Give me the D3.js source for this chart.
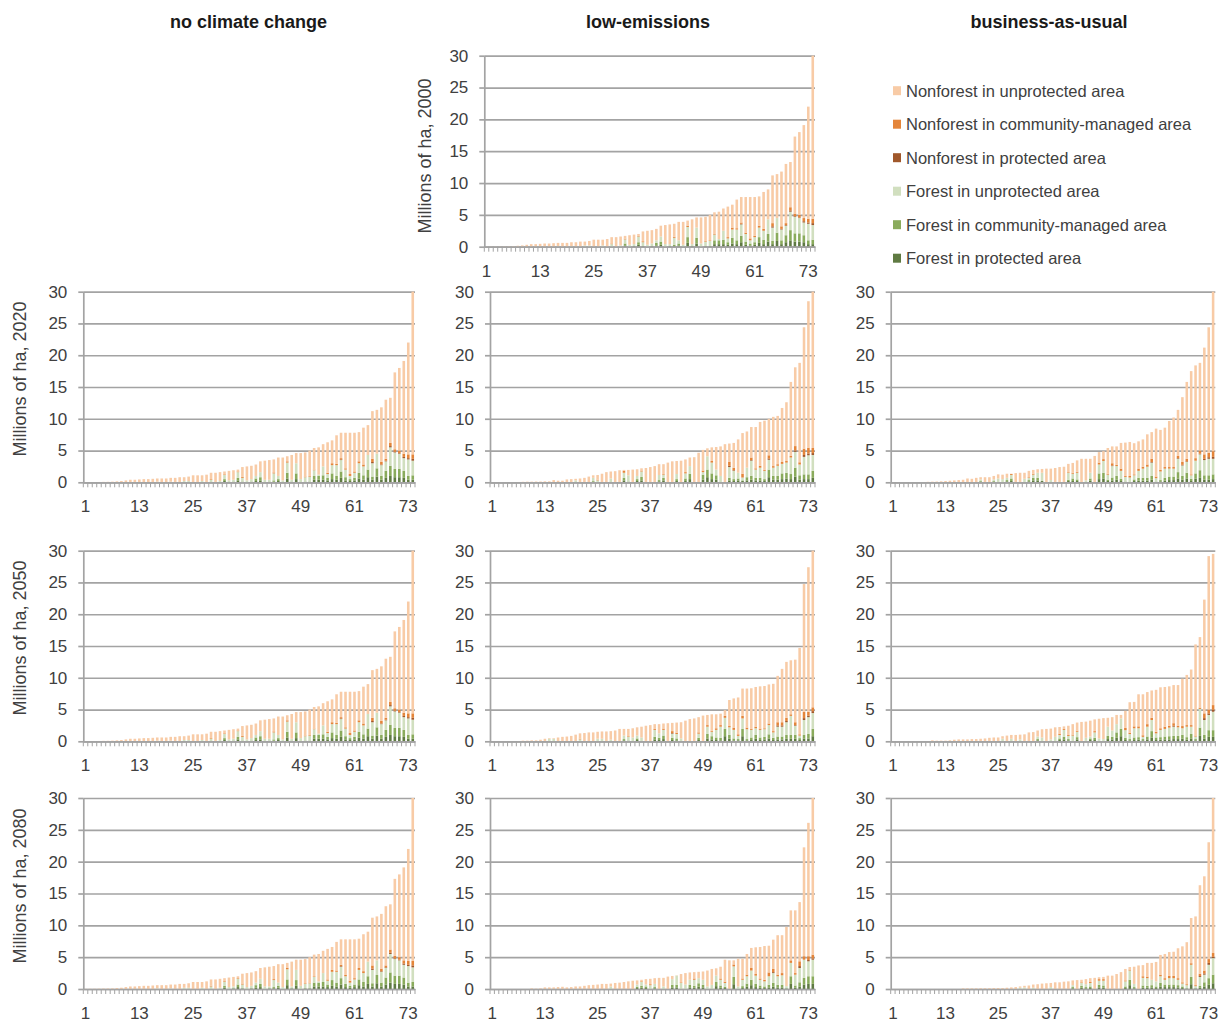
<!DOCTYPE html>
<html>
<head>
<meta charset="utf-8">
<script src="https://cdn.jsdelivr.net/npm/d3@7"></script>
<style>
  body { margin: 0; background: #fff; }
  text { font-family: "Liberation Sans", Arial, sans-serif; }
</style>
</head>
<body>
<div id="chart-area"></div>
<script>
/*
*    land cover by scenario, 74 units sorted by size
*/
var scenarios = ["no climate change", "low-emissions", "business-as-usual"];
var years = ["2000", "2020", "2050", "2080"];
var tickLabels = [1, 13, 25, 37, 49, 61, 73];
var yTicks = [0, 5, 10, 15, 20, 25, 30];
var categories = d3.range(1, 75);

var seriesKeys = ["fp", "fc", "fu", "np", "nc", "nu"];
var seriesNames = ["Forest in protected area", "Forest in community-managed area", "Forest in unprotected area",
                   "Nonforest in protected area", "Nonforest in community-managed area", "Nonforest in unprotected area"];
var seriesColors = ["#5f7a42", "#8aab5c", "#d1dfbf", "#a0582b", "#e4853a", "#f8cba6"];

// ---- 2000 (same in every no-climate-change year) ----
var base_total = [0.02,0.03,0.04,0.05,0.07,0.08,0.1,0.15,0.2,0.3,
  0.4,0.4,0.45,0.5,0.5,0.55,0.6,0.6,0.6,0.7,
  0.7,0.8,0.8,0.9,1.1,1.1,1.1,1.2,1.5,1.5,
  1.6,1.7,1.8,1.9,2.0,2.4,2.5,2.6,2.8,3.3,
  3.4,3.5,3.6,3.9,3.9,4.1,4.3,4.6,4.6,4.7,
  5.0,5.4,5.5,6.0,6.3,6.6,7.4,7.8,7.8,7.8,
  7.8,7.9,8.6,9.0,11.2,11.4,11.8,13.0,13.3,17.3,
  18.0,19.1,22.0,30.0];
var base_fp = [0,0,0,0,0,0,0,0,0,0, 0,0,0,0,0,0,0,0,0,0, 0,0,0,0,0,0,0,0,0,0,
  0,.2,0,.1,.3,.1,0,.1,.2,.3,
  0,.1,.1,.2,0,.6,.1,.5,0,.1,
  .1,.4,.4,.4,.3,.5,.4,.7,.3,.2,
  .3,.6,.4,.8,.4,.9,.4,.7,1.0,.8,
  .8,.7,.4,.4];
var base_fc = [0,0,0,0,0,0,0,0,0,0, 0,0,0,0,0,0,0,0,0,0, 0,0,0,0,0,0,0,0,0,0,
  0,.3,0,0,.4,0,0,0,.4,.5,
  0,0,.2,.3,0,.9,0,.9,0,0,
  0,.6,.6,.7,.4,.9,.6,1.0,.5,.3,
  .4,.9,.7,1.2,.5,1.3,.6,1.1,1.6,1.3,
  1.3,1.1,.6,.7];
var base_fu = [0,0,0,0,0,0,0,0,0,0,
  0,0,0,0,0,0,.1,0,0,.1,
  0,0,.2,.2,0,0,.2,0,.4,0,
  .2,.65,.3,.3,.9,.6,.3,.4,.4,.8,
  .4,.3,1.1,.5,.3,1.6,.3,1.6,.5,.7,
  .8,.9,.2,1.4,.6,1.3,1.7,1.8,1.2,.5,
  .8,1.5,1.4,2.3,2.1,2.3,1.7,1.5,2.9,2.6,
  2.4,2.0,2.6,2.3];
var base_np = [0,0,0,0,0,0,0,0,0,0, 0,0,0,0,0,0,0,0,0,0, 0,0,0,0,0,0,0,0,0,0, 0,0,0,0,0,0,0,0,0,0, 0,0,0,0,0,0,0,0,0,0,
  0,0,0,0,0,0,0,.1,0,0,
  0,0,0,0,.2,0,.1,.1,.2,.1,
  .1,.2,.2,.3];
var base_nc = [0,0,0,0,0,0,0,0,0,0, 0,0,0,0,0,0,0,0,0,0,
  0,0,0,0,0,0,0,0,.1,0,
  0,.1,0,0,.1,.15,0,0,0,0,
  0,0,.15,0,0,.2,0,0,0,.1,
  .1,.1,0,0,.2,.3,.2,.2,.2,.3,
  .2,.3,.3,0,.5,0,.4,.3,.5,.4,
  .4,.5,.6,.7];

// ---- low-emissions 2020 ----
var le20_total = [0,0,0,0,0.02,0.03,0.05,0.08,0.1,0.1,
  0.12,0.12,0.15,0.15,0.35,0.25,0.25,0.45,0.5,0.55,
  0.6,0.7,0.9,1.1,1.15,1.35,1.6,1.7,1.75,1.9,
  1.95,1.95,2.0,2.05,2.2,2.25,2.4,2.55,2.85,2.85,
  3.1,3.3,3.35,3.4,3.6,3.9,3.95,4.65,5.1,5.35,
  5.5,5.55,5.65,6.0,6.1,6.2,6.75,7.75,8.0,8.7,
  8.7,9.5,9.7,10.0,10.3,10.45,11.7,12.6,15.8,18.1,
  18.8,24.4,28.5,30];
var le20_fp = [0,0,0,0,0,0,0,0,0,0, 0,0,0,0,0,0,0,0,0,0,
  0,0,0,.1,0,0,0,0,0,0,
  .3,.1,0,.2,.3,0,0,0,.15,.3,
  0,0,.2,0,.2,.5,0,0,.4,.8,
  .5,.4,0,0,.3,.2,.3,.2,.3,.4,
  .3,.3,.2,.8,.4,.4,.5,.6,.5,.9,
  .4,.5,.5,.7];
var le20_fc = [0,0,0,0,0,0,0,0,0,0, 0,0,0,0,0,0,0,0,0,0,
  0,0,0,.1,0,0,0,0,0,0,
  .4,0,0,.3,.55,0,0,0,.2,.4,
  0,0,.3,0,.4,.85,0,0,.8,1.2,
  .9,.7,0,0,.4,.3,.3,.1,.5,.6,
  .4,.4,.3,1.2,.6,.6,.9,.9,.8,1.4,
  .7,.75,.75,1.1];
var le20_fu = [0,0,0,0,0,0,0,0,0,0,
  0,0,0,0,0,0,0,0,0,.3,
  0,0,0,.5,.3,0,0,.6,0,0,
  .8,1.0,0,.5,.85,0,0,0,.8,.5,
  0,0,.8,0,.8,1.2,0,0,.4,2.1,
  1.7,.9,1.0,0,1.7,1.3,.9,.45,1.5,2.4,
  1.3,1.6,1.3,1.55,1.3,1.6,1.5,1.6,2.6,2.5,
  1.7,2.75,3.0,2.5];
var le20_np = [0,0,0,0,0,0,0,0,0,0, 0,0,0,0,0,0,0,0,0,0, 0,0,0,0,0,0,0,0,0,0, 0,0,0,0,0,0,0,0,0,0, 0,0,0,0,0,0,0,0,0,0,
  0,0,0,0,.2,.1,0,0,0,.1,
  0,0,0,.2,0,0,0,0,0,.2,
  0,.3,.3,.3];
var le20_nc = [0,0,0,0,0,0,0,0,0,0, 0,0,0,0,0,0,0,0,0,0,
  0,0,0,0,.1,0,0,0,0,0,
  .3,0,0,0,.15,0,0,0,0,.1,
  0,0,0,0,.2,0,0,0,.25,0,
  .25,0,0,0,.65,.4,0,.6,0,.4,
  .2,.3,.15,.5,.25,.25,.3,.25,.25,.7,
  .35,1.0,.9,.8];

// ---- business-as-usual 2020 ----
var bau20_total = [0,0,0,0,0,0,0,0.05,0.08,0.1,
  0.12,0.15,0.2,0.25,0.3,0.35,0.4,0.6,0.55,0.7,
  0.8,0.8,0.8,1.0,1.25,1.2,1.35,1.35,1.45,1.5,
  1.5,1.8,1.95,2.05,2.1,2.15,2.15,2.25,2.4,2.45,
  2.9,3.05,3.45,3.7,3.7,3.7,4.15,4.75,4.9,5.4,
  5.65,5.65,6.2,6.25,6.35,6.15,6.45,6.75,7.55,7.9,
  8.45,8.25,8.6,9.65,10.2,11.4,13.4,15.8,17.5,18.4,
  18.8,21.2,24.4,30];
var bau20_fp = [0,0,0,0,0,0,0,0,0,0, 0,0,0,0,0,0,0,0,0,0,
  .1,0,0,.1,0,0,.15,.2,0,0,
  0,.15,.3,.3,.2,0,0,0,0,0,
  .2,.2,.2,0,0,.25,0,.5,.6,.2,
  .3,.4,.2,.1,0,.2,.25,.25,.25,.4,
  .1,.15,.25,.35,.35,.6,.4,.6,.2,.55,
  .7,.4,.4,.5];
var bau20_fc = [0,0,0,0,0,0,0,0,0,0, 0,0,0,0,0,0,0,0,0,0,
  .1,0,0,.1,0,0,.2,.4,0,0,
  0,.2,.4,.4,0,0,0,0,0,0,
  .2,.4,.25,0,0,.35,0,.9,.9,.2,
  .45,.6,.35,0,0,.25,.45,.45,.45,.6,
  0,.2,.45,.55,.55,1.0,.6,.9,.35,.85,
  1.2,.7,.7,.75];
var bau20_fu = [0,0,0,0,0,0,0,0,0,0, 0,0,0,0,0,0,0,0,0,0,
  .25,0,0,.25,.6,.5,.35,.55,0,0,
  .55,.35,.5,.8,1.3,0,.35,0,0,0,
  1.1,.75,1.05,0,.3,.9,0,1.4,1.85,.8,
  1.8,1.55,1.25,.75,.75,.65,1.1,1.45,1.75,2.1,
  .55,1.35,1.45,1.25,1.25,2.1,1.65,1.7,.55,2.0,
  2.5,2.4,2.6,2.45];
var bau20_np = [0,0,0,0,0,0,0,0,0,0, 0,0,0,0,0,0,0,0,0,0, 0,0,0,0,0,0,0,0,0,0, 0,0,0,0,0,0,0,0,0,0, 0,0,0,0,0,0,0,0,0,0,
  .1,0,0,0,0,0,0,0,0,.1,
  0,0,0,0,0,.1,.1,.1,0,0,
  .1,.2,.25,.3];
var bau20_nc = [0,0,0,0,0,0,0,0,0,0, 0,0,0,0,0,0,0,0,0,0,
  0,0,0,0,0,0,0,.15,0,0,
  0,.1,.15,0,0,0,0,0,0,0,
  .1,.15,.15,0,0,0,0,.3,.3,.15,
  .35,.2,.35,.15,.25,.15,.35,.3,.35,.5,
  .25,.25,.25,.25,.25,.35,.45,.4,.15,.4,
  .5,.7,.7,.9];

// ---- low-emissions 2050 ----
var le50_total = [0,0,0,0,0,0,0,0.1,0.1,0.15,
  0.15,0.25,0.4,0.5,0.5,0.6,0.7,0.75,0.85,1.05,
  1.25,1.3,1.4,1.4,1.5,1.55,1.55,1.6,1.7,1.95,
  1.95,1.95,2.05,2.2,2.3,2.45,2.55,2.7,2.7,2.8,
  2.85,2.9,2.95,3.0,3.25,3.5,3.6,3.8,4.05,4.15,
  4.25,4.25,4.35,4.9,6.5,6.75,6.9,8.3,8.3,8.35,
  8.55,8.65,8.7,8.95,9.05,10.3,11.4,12.5,12.75,12.85,
  14.7,24.75,27.4,30];
var le50_fp = [0,0,0,0,0,0,0,0,0,0, 0,0,0,0,0,0,0,0,0,0, 0,0,0,0,0,0,0,0,0,0,
  .15,.1,0,.2,0,0,0,.3,.2,.35,
  0,.2,.15,0,0,0,0,.2,0,.45,
  .3,.2,.15,.8,.4,.15,.15,.8,.15,.2,
  .4,.2,.3,.45,.2,.3,.3,.4,.4,.4,
  .2,.4,.45,.8];
var le50_fc = [0,0,0,0,0,0,0,0,0,0, 0,0,0,0,0,0,0,0,0,0, 0,0,0,0,0,0,0,0,0,0,
  .2,0,0,.25,0,0,0,.4,.35,.55,
  0,.35,.3,0,0,0,0,.35,0,.7,
  .5,.4,.4,1.15,.6,.3,.2,1.15,.2,.4,
  .6,.4,.4,.65,.35,.45,.45,.6,.6,.6,
  .3,.6,.7,1.15];
var le50_fu = [0,0,0,0,0,0,0,0,0,0,
  0,0,0,.4,.4,0,0,0,0,0,
  .3,0,0,0,.4,.4,0,.25,0,0,
  .55,.6,.6,.45,.6,0,0,1.1,.7,.9,
  0,.65,.7,.45,0,0,0,.65,0,1.15,
  .7,1.2,1.75,1.75,1.2,1.35,.5,1.65,1.55,1.2,
  1.05,1.2,1.2,1.45,.85,1.55,1.55,2.0,3.0,1.45,
  .4,2.35,2.65,2.5];
var le50_np = [0,0,0,0,0,0,0,0,0,0, 0,0,0,0,0,0,0,0,0,0, 0,0,0,0,0,0,0,0,0,0, 0,0,0,0,0,0,0,0,0,0,
  0,.1,0,0,0,0,0,0,0,0,
  0,0,0,0,0,0,0,0,0,0,
  0,0,0,0,0,.2,.2,.2,0,.1,
  0,.3,.25,.3];
var le50_nc = [0,0,0,0,0,0,0,0,0,0, 0,0,0,0,0,0,0,0,0,0,
  .1,0,0,0,0,0,0,0,0,0,
  0,.1,0,0,0,0,0,.15,0,.2,
  0,.3,.2,0,0,0,0,.2,0,.25,
  .15,.25,.25,.3,.2,.35,.25,.4,.25,.15,
  .25,.2,.15,.25,.2,.5,.5,.5,.25,.45,
  .2,1.0,.6,.6];

// ---- business-as-usual 2050 ----
var bau50_total = [0,0,0,0,0,0,0,0,0,0.15,
  0.1,0.1,0.1,0.15,0.25,0.3,0.3,0.3,0.35,0.35,
  0.4,0.45,0.55,0.6,0.6,0.8,0.9,1.0,1.0,1.05,
  1.1,1.4,1.45,1.7,1.9,1.95,2.0,2.2,2.25,2.35,
  2.45,2.7,2.95,3.05,3.1,3.25,3.45,3.55,3.65,3.7,
  3.8,4.15,4.15,4.8,6.15,6.2,7.4,7.4,7.75,8.0,
  8.1,8.5,8.55,8.65,8.85,8.85,9.85,10.45,11.3,15.25,
  16.4,22.3,29.15,29.5];
var bau50_fp = [0,0,0,0,0,0,0,0,0,0, 0,0,0,0,0,0,0,0,0,0, 0,0,0,0,0,0,0,0,0,0,
  0,0,0,.15,0,0,0,0,.2,.3,
  .15,0,.3,0,0,.2,.2,0,0,.35,
  .3,.55,.8,.2,.15,.2,.25,.15,.3,.6,
  .2,.25,.3,.3,.35,.35,.4,.25,.45,.15,
  .85,.4,.7,.7];
var bau50_fc = [0,0,0,0,0,0,0,0,0,0, 0,0,0,0,0,0,0,0,0,0, 0,0,0,0,0,0,0,0,0,0,
  0,0,0,.2,0,0,0,0,.25,.4,
  .2,0,.35,0,0,.25,.35,0,0,.5,
  .4,.85,1.15,.35,.2,.4,.4,.2,.45,1.0,
  .4,.4,.45,.5,.5,.5,.6,.4,.7,.2,
  1.3,.6,1.05,1.05];
var bau50_fu = [0,0,0,0,0,0,0,0,0,0, 0,0,0,0,0,0,0,0,0,0,
  0,0,0,0,0,.4,0,.4,0,.3,
  0,0,0,.4,.6,0,.3,.7,.55,1.1,
  .5,.9,.85,0,.55,.3,.85,.45,.35,1.45,
  1.0,1.3,1.65,1.2,.8,1.45,1.4,.35,1.55,1.75,
  .65,1.15,1.2,1.35,1.45,1.35,1.05,1.65,1.15,.4,
  2.95,2.35,2.4,2.9];
var bau50_np = [0,0,0,0,0,0,0,0,0,0, 0,0,0,0,0,0,0,0,0,0, 0,0,0,0,0,0,0,0,0,0, 0,0,0,0,0,0,0,0,0,0, 0,0,0,0,0,0,0,0,0,0, 0,0,0,0,0,0,0,0,0,0,
  0,0,0,0,.15,0,0,0,0,0,
  0,.3,.25,.3];
var bau50_nc = [0,0,0,0,0,0,0,0,0,0, 0,0,0,0,0,0,0,0,0,0, 0,0,0,0,0,0,0,0,0,0,
  0,0,0,0,0,0,0,0,.2,.15,
  .15,.15,.15,0,0,0,.2,0,0,0,
  0,0,0,.35,.2,.3,.3,.25,.4,.35,
  .25,.25,.35,.3,.4,.25,.35,.25,.25,.15,
  .2,.75,.6,.75];

// ---- low-emissions 2080 ----
var le80_total = [0,0,0,0,0,0,0,0,0,0.1,
  0.05,0.1,0.25,0.25,0.25,0.3,0.35,0.25,0.3,0.4,
  0.4,0.5,0.6,0.65,0.7,0.8,0.8,0.85,0.95,1.0,
  1.1,1.2,1.3,1.35,1.45,1.55,1.6,1.7,1.75,1.75,
  1.95,2.05,2.15,2.35,2.5,2.6,2.65,2.7,2.75,2.9,
  3.15,3.25,3.5,4.6,4.5,4.5,4.75,4.75,5.5,6.45,
  6.55,6.6,6.75,6.8,7.75,8.45,8.45,9.75,12.35,12.35,
  13.65,22.25,26.1,30];
var le80_fp = [0,0,0,0,0,0,0,0,0,0, 0,0,0,0,0,0,0,0,0,0, 0,0,0,0,0,0,0,0,0,0,
  0,0,0,.15,.2,.15,0,.1,0,0,
  0,.25,.25,0,0,.25,.2,.35,.25,0,
  0,.45,.2,.15,0,.75,0,.15,.35,.6,
  .3,.2,.15,.25,.35,.25,.25,.1,.8,.2,
  .4,.7,.8,.8];
var le80_fc = [0,0,0,0,0,0,0,0,0,0, 0,0,0,0,0,0,0,0,0,0, 0,0,0,0,0,0,0,0,0,0,
  0,0,0,.2,.3,.25,0,.2,0,0,
  0,.4,.4,0,0,.4,.3,.55,.4,0,
  0,.65,.35,.2,0,1.15,0,.3,.5,.85,
  .5,.35,.25,.4,.6,.4,.4,0,1.2,.35,
  .65,1.05,1.2,1.2];
var le80_fu = [0,0,0,0,0,0,0,0,0,0, 0,0,0,0,0,0,0,0,0,0,
  0,0,0,0,0,0,0,.4,0,0,
  0,0,0,.35,.6,.3,.6,.5,0,.4,
  0,.9,1.45,.95,.7,.8,.95,.8,.8,.4,
  .65,1.0,.9,.6,0,1.65,.4,1.0,1.15,1.45,
  1.3,.9,.8,1.35,1.55,1.35,1.5,.35,2.1,1.7,
  2.25,2.85,2.35,2.6];
var le80_np = [0,0,0,0,0,0,0,0,0,0, 0,0,0,0,0,0,0,0,0,0, 0,0,0,0,0,0,0,0,0,0, 0,0,0,0,0,0,0,0,0,0, 0,0,0,0,0,0,0,0,0,0, 0,0,0,0,0,0,0,0,0,0,
  0,0,0,0,.15,0,0,0,0,0,
  .3,0,.2,.2];
var le80_nc = [0,0,0,0,0,0,0,0,0,0, 0,0,0,0,0,0,0,0,0,0, 0,0,0,0,0,0,0,0,0,0,
  0,0,0,0,.1,0,.15,0,0,0,
  0,0,0,.1,0,0,.2,0,0,0,
  0,0,.2,.2,0,.3,0,.2,.25,.4,
  .25,.2,.25,.6,.5,.25,.35,0,.4,.25,
  .75,.55,.6,.6];

// ---- business-as-usual 2080 ----
var bau80_total = [0,0,0,0,0,0,0,0,0,0,
  0,0,0,0,0,0,0.1,0.1,0.1,0.1,
  0.12,0.12,0.12,0.15,0.15,0.15,0.2,0.25,0.3,0.4,
  0.5,0.55,0.7,0.75,0.85,0.9,0.95,1.05,1.05,1.15,
  1.2,1.35,1.4,1.45,1.55,1.7,1.75,1.85,1.9,2.1,
  2.1,2.35,2.65,3.15,3.45,3.5,3.7,3.75,4.1,4.1,
  4.25,5.35,5.5,5.8,5.85,6.4,6.7,7.35,11.15,11.4,
  16.3,17.7,23.05,30];
var bau80_fp = [0,0,0,0,0,0,0,0,0,0, 0,0,0,0,0,0,0,0,0,0, 0,0,0,0,0,0,0,0,0,0, 0,0,0,0,0,0,0,0,0,0,
  0,.1,0,.2,.1,.15,0,.25,.2,0,
  0,0,0,.15,.6,.1,0,.2,.2,.25,
  .15,.4,.3,.3,.3,.25,.15,.1,.75,.1,
  .2,.4,.65,.9];
var bau80_fc = [0,0,0,0,0,0,0,0,0,0, 0,0,0,0,0,0,0,0,0,0, 0,0,0,0,0,0,0,0,0,0, 0,0,0,0,0,0,0,0,0,0,
  0,.2,0,.3,.2,.25,0,.4,.35,0,
  0,0,0,.25,.85,.2,0,.35,.3,.35,
  .25,.55,.4,.4,.4,.35,.25,0,1.15,0,
  .3,.65,1.05,1.35];
var bau80_fu = [0,0,0,0,0,0,0,0,0,0, 0,0,0,0,0,0,0,0,0,0,
  0,0,0,0,0,0,0,0,0,.2,
  .25,0,.2,0,0,0,.3,0,0,0,
  0,.3,0,.45,.45,.55,0,.65,.75,0,
  0,0,0,.8,1.45,.5,0,1.2,1.2,.85,
  .8,1.05,.75,1.0,1.0,.85,.45,.5,1.9,.35,
  1.4,1.2,2.1,2.6];
var bau80_np = [0,0,0,0,0,0,0,0,0,0, 0,0,0,0,0,0,0,0,0,0, 0,0,0,0,0,0,0,0,0,0, 0,0,0,0,0,0,0,0,0,0, 0,0,0,0,0,0,0,0,0,0, 0,0,0,0,0,0,0,0,0,0, 0,0,0,0,0,0,0,0,0,0,
  .15,.2,.3,.2];
var bau80_nc = [0,0,0,0,0,0,0,0,0,0, 0,0,0,0,0,0,0,0,0,0, 0,0,0,0,0,0,0,0,0,0, 0,0,0,0,0,0,0,0,0,0,
  0,0,0,.1,0,.15,0,.25,.25,0,
  0,0,0,.15,.15,0,0,.25,.25,0,
  0,.25,.25,.35,.35,.25,.2,.15,.25,.15,
  .35,.45,.6,.6];

var datasets = {
  base:  {total: base_total,  fp: base_fp,  fc: base_fc,  fu: base_fu,  np: base_np,  nc: base_nc},
  le20:  {total: le20_total,  fp: le20_fp,  fc: le20_fc,  fu: le20_fu,  np: le20_np,  nc: le20_nc},
  bau20: {total: bau20_total, fp: bau20_fp, fc: bau20_fc, fu: bau20_fu, np: bau20_np, nc: bau20_nc},
  le50:  {total: le50_total,  fp: le50_fp,  fc: le50_fc,  fu: le50_fu,  np: le50_np,  nc: le50_nc},
  bau50: {total: bau50_total, fp: bau50_fp, fc: bau50_fc, fu: bau50_fu, np: bau50_np, nc: bau50_nc},
  le80:  {total: le80_total,  fp: le80_fp,  fc: le80_fc,  fu: le80_fu,  np: le80_np,  nc: le80_nc},
  bau80: {total: bau80_total, fp: bau80_fp, fc: bau80_fc, fu: bau80_fu, np: bau80_np, nc: bau80_nc}
};

// panel placement (pixels)
var panels = [
  {data: "base",  year: 0, left: 484.3, right: 815,    top: 55.7,  bottom: 246.7, titleX: 425, titleY: 156},
  {data: "base",  year: 1, left: 83.3,  right: 415,    top: 291.7, bottom: 482.3, titleX: 20,  titleY: 379},
  {data: "le20",  year: 1, left: 490,   right: 815,    top: 291.7, bottom: 482.3},
  {data: "bau20", year: 1, left: 890.7, right: 1215.3, top: 291.7, bottom: 482.3},
  {data: "base",  year: 2, left: 83.3,  right: 415,    top: 550.7, bottom: 741.3, titleX: 20,  titleY: 638},
  {data: "le50",  year: 2, left: 490,   right: 815,    top: 550.7, bottom: 741.3},
  {data: "bau50", year: 2, left: 890.7, right: 1215.3, top: 550.7, bottom: 741.3},
  {data: "base",  year: 3, left: 83.3,  right: 415,    top: 798,   bottom: 989,   titleX: 20,  titleY: 886},
  {data: "le80",  year: 3, left: 490,   right: 815,    top: 798,   bottom: 989},
  {data: "bau80", year: 3, left: 890.7, right: 1215.3, top: 798,   bottom: 989}
];

var gridColor = "#a3a3a3";
var labelColor = "#404040";

var svg = d3.select("#chart-area").append("svg")
            .attr("width", 1225)
            .attr("height", 1024);

// column headings
var headX = [248.5, 648, 1049];
svg.selectAll("text.head")
   .data(scenarios)
   .enter().append("text")
      .attr("class", "head")
      .attr("x", (d, i) => headX[i])
      .attr("y", 28)
      .attr("text-anchor", "middle")
      .attr("font-size", "18px")
      .attr("font-weight", "bold")
      .attr("fill", "#1a1a1a")
      .text((d) => d);

var stack = d3.stack().keys(seriesKeys);

panels.forEach((p) => {
  var d = datasets[p.data];
  var rows = categories.map((c, i) => {
    var r = {cat: c, fp: d.fp[i], fc: d.fc[i], fu: d.fu[i], np: d.np[i], nc: d.nc[i]};
    r.nu = Math.max(0, d.total[i] - r.fp - r.fc - r.fu - r.np - r.nc);
    return r;
  });

  var x = d3.scaleBand()
            .domain(categories)
            .range([p.left, p.right])
            .paddingInner(0.42)
            .paddingOuter(0.21);
  var y = d3.scaleLinear()
            .domain([0, 30])
            .range([p.bottom, p.top]);

  var g = svg.append("g");

  // gridlines
  g.append("g")
   .attr("transform", "translate(" + p.left + ",0)")
   .call(d3.axisLeft(y).tickValues(yTicks).tickSize(-(p.right - p.left)).tickFormat(""))
   .call((s) => s.select(".domain").remove())
   .selectAll("line")
      .attr("stroke", gridColor)
      .attr("stroke-width", 1.7);

  // bars
  g.append("g").selectAll("g")
   .data(stack(rows))
   .enter().append("g")
      .attr("fill", (s, i) => seriesColors[i])
   .selectAll("rect")
   .data((s) => s)
   .enter().append("rect")
      .attr("x", (v) => x(v.data.cat))
      .attr("y", (v) => y(v[1]))
      .attr("width", x.bandwidth())
      .attr("height", (v) => Math.max(0, y(v[0]) - y(v[1])));

  // y axis
  var ya = g.append("g")
            .attr("transform", "translate(" + p.left + ",0)")
            .call(d3.axisLeft(y).tickValues(yTicks).tickSize(5).tickSizeOuter(0).tickPadding(11));
  ya.selectAll("line, path").attr("stroke", gridColor).attr("stroke-width", 1.7);
  ya.selectAll("text").attr("font-size", "17px").attr("fill", labelColor)
    .attr("font-family", "'Liberation Sans', Arial, sans-serif");

  // x axis labels
  var xa = g.append("g")
            .attr("transform", "translate(0," + p.bottom + ")")
            .call(d3.axisBottom(x).tickValues(tickLabels).tickSize(0).tickPadding(18));
  xa.select(".domain").attr("stroke", gridColor).attr("stroke-width", 1.7);
  xa.selectAll("text").attr("font-size", "17px").attr("fill", labelColor)
    .attr("font-family", "'Liberation Sans', Arial, sans-serif");

  // category tick marks between bars
  var edges = categories.map((c) => x(c) - x.step() * x.paddingInner() / 2).concat([p.right]);
  g.append("g").selectAll("line")
   .data(edges)
   .enter().append("line")
      .attr("x1", (e) => e)
      .attr("x2", (e) => e)
      .attr("y1", p.bottom)
      .attr("y2", p.bottom + 5)
      .attr("stroke", gridColor)
      .attr("stroke-width", 1);

  // axis title
  if (p.titleX !== undefined) {
    g.append("text")
     .attr("transform", "translate(" + p.titleX + "," + p.titleY + ") rotate(-90)")
     .attr("text-anchor", "middle")
     .attr("dy", "0.35em")
     .attr("font-size", "18px")
     .attr("fill", labelColor)
     .text("Millions of ha, " + years[p.year]);
  }
});

// legend (top right)
var legendOrder = [5, 4, 3, 2, 1, 0];
var legend = svg.append("g").selectAll("g")
                .data(legendOrder)
                .enter().append("g")
                   .attr("transform", (k, i) => "translate(893," + (90.7 + i * 33.5) + ")");
legend.append("rect")
      .attr("x", 0)
      .attr("y", -4.5)
      .attr("width", 8)
      .attr("height", 9)
      .attr("fill", (k) => seriesColors[k]);
legend.append("text")
      .attr("x", 13)
      .attr("dy", "0.36em")
      .attr("font-size", "16.5px")
      .attr("fill", labelColor)
      .text((k) => seriesNames[k]);
</script>
</body>
</html>
